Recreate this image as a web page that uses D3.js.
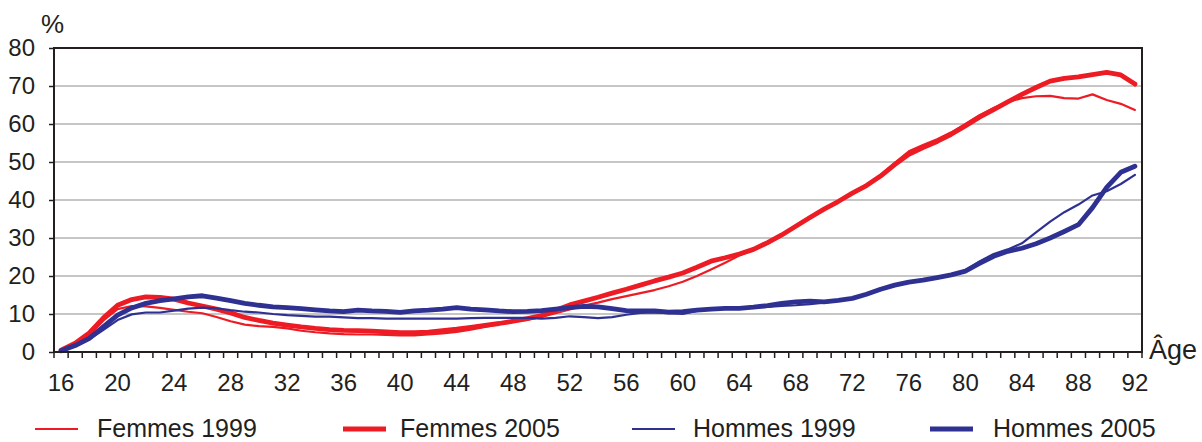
<!DOCTYPE html>
<html>
<head>
<meta charset="utf-8">
<script src="https://cdn.jsdelivr.net/npm/d3@7"></script>
<style>
  html, body { margin: 0; padding: 0; background: #fff; }
  svg { display: block; }
  text { font-family: "Liberation Sans", Arial, Helvetica, sans-serif; fill: #231f20; }
</style>
</head>
<body>
<svg id="chart" width="1202" height="442"></svg>
<script>
// ---- Data ----
const ages = d3.range(16, 93); // 16..92
const xTickLabels = [16, 20, 24, 28, 32, 36, 40, 44, 48, 52, 56, 60, 64, 68, 72, 76, 80, 84, 88, 92];
const yTickValues = [0, 10, 20, 30, 40, 50, 60, 70, 80];

const femmes1999 = [
  0.5, 2.0, 4.5, 8.3, 11.3, 12.1, 12.0, 11.6, 11.1, 10.6,   // 16-25
  10.2, 9.2, 8.1, 7.2, 6.8, 6.6, 6.2, 5.6, 5.2, 4.9,        // 26-35
  4.7, 4.6, 4.6, 4.5, 4.4, 4.4, 4.6, 4.9, 5.3, 5.9,         // 36-45
  6.6, 7.3, 7.9, 8.5, 9.2, 10.2, 11.2, 12.2, 13.0, 13.9,    // 46-55
  14.7, 15.5, 16.3, 17.3, 18.5, 20.0, 21.7, 23.5, 25.4, 26.8, // 56-65
  28.5, 30.5, 33.3, 35.6, 37.6, 39.6, 41.8, 44.0, 46.6, 49.8, // 66-75
  52.8, 54.5, 56.0, 57.8, 60.0, 62.3, 64.2, 65.8, 66.8, 67.3, // 76-85
  67.4, 66.8, 66.7, 67.8, 66.3, 65.3, 63.7                   // 86-92
];
const femmes2005 = [
  0.5, 2.3, 5.0, 9.0, 12.3, 13.8, 14.5, 14.4, 13.9, 12.9,
  12.1, 11.3, 10.3, 9.1, 8.3, 7.6, 7.1, 6.6, 6.2, 5.9,
  5.7, 5.6, 5.5, 5.3, 5.1, 5.1, 5.2, 5.6, 6.0, 6.5,
  7.0, 7.5, 8.1, 8.8, 9.6, 11.0, 12.4, 13.4, 14.4, 15.5,
  16.5, 17.6, 18.7, 19.7, 20.8, 22.3, 23.9, 24.8, 25.8, 27.0,
  28.8, 30.8, 33.1, 35.4, 37.6, 39.6, 41.8, 43.8, 46.3, 49.3,
  52.0, 53.8, 55.4, 57.3, 59.5, 61.8, 63.8, 65.8, 67.8, 69.6,
  71.3, 72.0, 72.4, 73.0, 73.6, 72.9, 70.5
];
const hommes1999 = [
  0.3, 1.5, 3.3, 5.8, 8.4, 9.9, 10.4, 10.4, 10.9, 11.4,
  11.7, 11.5, 11.0, 10.6, 10.4, 10.0, 9.7, 9.5, 9.3, 9.3,
  9.1, 8.9, 8.9, 8.8, 8.8, 8.8, 8.8, 8.8, 8.8, 8.9,
  9.0, 9.0, 9.0, 9.0, 8.8, 9.0, 9.4, 9.2, 8.9, 9.2,
  9.8, 10.3, 10.4, 10.2, 10.0, 10.8, 11.2, 11.5, 11.6, 11.7,
  11.9, 12.1, 12.3, 12.6, 13.0, 13.5, 14.1, 15.2, 16.5, 17.6,
  18.4, 18.9, 19.6, 20.3, 21.5, 23.8, 25.8, 27.0, 28.6, 31.5,
  34.3, 36.8, 38.8, 41.2, 42.3, 44.2, 46.6
];
const hommes2005 = [
  0.3, 1.7, 3.6, 6.7, 9.7, 11.6, 12.8, 13.5, 14.0, 14.5,
  14.8, 14.2, 13.5, 12.8, 12.3, 11.9, 11.7, 11.4, 11.1, 10.8,
  10.6, 11.0, 10.8, 10.7, 10.4, 10.8, 11.0, 11.3, 11.7, 11.3,
  11.1, 10.8, 10.6, 10.7, 10.9, 11.3, 11.7, 12.0, 11.9, 11.4,
  10.9, 10.8, 10.8, 10.5, 10.6, 11.0, 11.3, 11.5, 11.5, 11.8,
  12.2, 12.8, 13.2, 13.4, 13.2, 13.6, 14.1, 15.2, 16.5, 17.6,
  18.4, 18.9, 19.6, 20.3, 21.3, 23.3, 25.2, 26.5, 27.3, 28.5,
  30.0, 31.7, 33.5, 38.0, 43.3, 47.3, 48.9
];

const seriesNames = ["Femmes 1999", "Femmes 2005", "Hommes 1999", "Hommes 2005"];
const seriesValues = [femmes1999, femmes2005, hommes1999, hommes2005];
const seriesColors = ["#ed1c24", "#ed1c24", "#2e3192", "#2e3192"];
const seriesWidths = [2.2, 4.8, 2.2, 4.8];

// ---- Layout ----
const svg = d3.select("#chart");
const pL = 54, pR = 1142, pT = 48, pB = 352;

const x = d3.scaleBand().domain(ages).range([pL, pR]).paddingInner(0).paddingOuter(0);
const y = d3.scaleLinear().domain([0, 80]).range([pB, pT]);

// Gridlines
svg.append("g")
  .selectAll("line")
  .data(yTickValues.filter(v => v > 0 && v < 80))
  .join("line")
  .attr("x1", pL).attr("x2", pR)
  .attr("y1", d => y(d)).attr("y2", d => y(d))
  .attr("stroke", "#b3b3b3").attr("stroke-width", 1.5);

// Lines
const line = d3.line()
  .x((d, i) => x(ages[i]) + x.bandwidth() / 2)
  .y(d => y(d));

svg.append("g")
  .selectAll("path")
  .data([0, 1, 2, 3])
  .join("path")
  .attr("d", i => line(seriesValues[i]))
  .attr("fill", "none")
  .attr("stroke", i => seriesColors[i])
  .attr("stroke-width", i => seriesWidths[i])
  .attr("stroke-linejoin", "round")
  .attr("stroke-linecap", "round");

// Frame
svg.append("rect")
  .attr("x", pL).attr("y", pT)
  .attr("width", pR - pL).attr("height", pB - pT)
  .attr("fill", "none").attr("stroke", "#231f20").attr("stroke-width", 2);

// Y axis
const yAxis = d3.axisLeft(y).tickValues(yTickValues).tickSize(5).tickPadding(14);
const gy = svg.append("g").attr("transform", `translate(${pL},0)`).call(yAxis);
gy.select(".domain").remove();
gy.selectAll(".tick line").attr("stroke", "#231f20").attr("stroke-width", 1.5);
gy.selectAll(".tick text").attr("font-size", 24).attr("fill", "#231f20")
  .attr("font-family", "'Liberation Sans', Arial, sans-serif");

// X axis ticks at band boundaries
const boundaries = ages.map(a => x(a)).concat([pR]);
svg.append("g")
  .selectAll("line")
  .data(boundaries)
  .join("line")
  .attr("x1", d => d).attr("x2", d => d)
  .attr("y1", pB).attr("y2", pB + 6)
  .attr("stroke", "#231f20").attr("stroke-width", 1.5);

// X labels
const xAxis = d3.axisBottom(x).tickValues(xTickLabels).tickSize(0).tickPadding(22);
const gx = svg.append("g").attr("transform", `translate(0,${pB})`).call(xAxis);
gx.select(".domain").remove();
gx.selectAll(".tick text").attr("font-size", 24).attr("fill", "#231f20")
  .attr("font-family", "'Liberation Sans', Arial, sans-serif");

// Unit labels
svg.append("text").attr("x", 41).attr("y", 33).attr("font-size", 26).text("%");
svg.append("text").attr("x", 1149).attr("y", 359).attr("font-size", 27).text("Âge");

// Legend
const legendLineX = [35, 343, 632, 930];
const legendTextX = [97, 400, 693, 993];
const legend = svg.append("g");
seriesNames.forEach((name, i) => {
  legend.append("line")
    .attr("x1", legendLineX[i]).attr("x2", legendLineX[i] + 43)
    .attr("y1", 429).attr("y2", 429)
    .attr("stroke", seriesColors[i]).attr("stroke-width", seriesWidths[i]);
  legend.append("text").attr("x", legendTextX[i]).attr("y", 437)
    .attr("font-size", 25).text(name);
});
</script>
</body>
</html>
